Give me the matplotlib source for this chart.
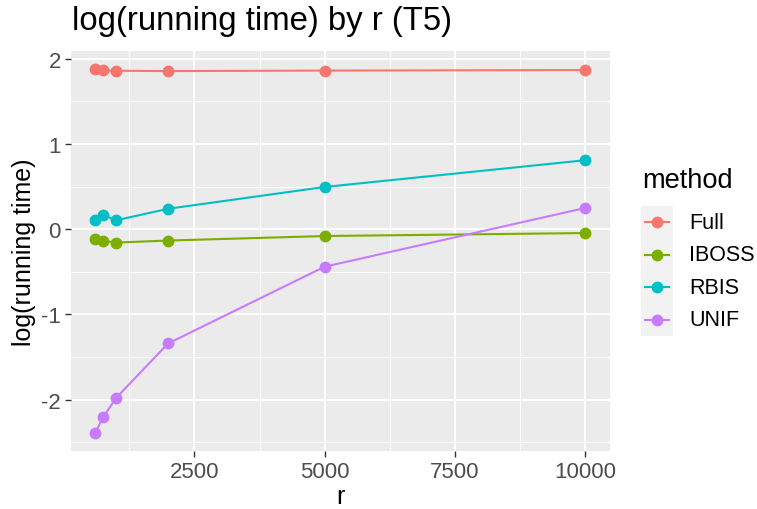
import matplotlib
matplotlib.use("Agg")
import matplotlib.pyplot as plt
from matplotlib.ticker import FixedLocator

r = [600, 750, 1000, 2000, 5000, 10000]
methods = ["Full", "IBOSS", "RBIS", "UNIF"]
full = [1.875, 1.863, 1.860, 1.856, 1.862, 1.868]
iboss = [-0.114, -0.137, -0.157, -0.133, -0.080, -0.045]
rbis = [0.113, 0.168, 0.105, 0.240, 0.496, 0.810]
unif = [-2.39, -2.21, -1.98, -1.34, -0.44, 0.25]
colors = ["#F8766D", "#7CAE00", "#00BFC4", "#C77CFF"]

xticks = [2500, 5000, 7500, 10000]
yticks = [-2, -1, 0, 1, 2]

plt.rcParams["font.family"] = ["Liberation Sans", "DejaVu Sans"]

W, H = 757, 510
fig = plt.figure(figsize=(W / 100, H / 100), dpi=100)
ax = fig.add_axes([70.7 / W, 58 / H, (610 - 70.7) / W, (452 - 52.3) / H])
ax.set_facecolor("#EBEBEB")

series = [full, iboss, rbis, unif]
for name, vals, c in zip(methods, series, colors):
    ax.plot(r, vals, color=c, lw=1.5, marker="o", ms=7.5, label=name, zorder=3)

# ggplot-style 5% expansion
xmin, xmax = min(r), max(r)
dx = (xmax - xmin) * 0.05
ax.set_xlim(xmin - dx, xmax + dx)
allv = full + iboss + rbis + unif
ymin, ymax = min(allv), max(allv)
dy = (ymax - ymin) * 0.05
ax.set_ylim(ymin - dy, ymax + dy)

ax.xaxis.set_major_locator(FixedLocator(xticks))
ax.yaxis.set_major_locator(FixedLocator(yticks))
ax.xaxis.set_minor_locator(FixedLocator([1250, 3750, 6250, 8750]))
ax.yaxis.set_minor_locator(FixedLocator([-2.5, -1.5, -0.5, 0.5, 1.5]))
ax.set_xticklabels([str(t) for t in xticks])
ax.set_yticklabels([str(t) for t in yticks])
ax.grid(which="major", color="white", lw=1.4)
ax.grid(which="minor", color="white", lw=0.7)
ax.set_axisbelow(True)
for s in ax.spines.values():
    s.set_visible(False)
ax.tick_params(which="major", length=4, width=1, color="#333333",
               labelcolor="#4D4D4D", labelsize=16, pad=3)
ax.tick_params(which="minor", length=0)

ax.set_xlabel("r", fontsize=18, labelpad=2)
ax.set_ylabel("log(running time)", fontsize=18, labelpad=4)
fig.text(72 / W, 1 - 30 / H, "log(running time) by r (T5)", fontsize=23.7,
         ha="left", va="baseline")

# legend, ggplot style: grey key column, labels on the right
lax = fig.add_axes([641 / W, 1 - 337 / H, 32 / W, 130 / H])
lax.set_facecolor("#F2F2F2")
lax.set_xlim(0, 1)
lax.set_ylim(len(methods), 0)
lax.set_xticks([])
lax.set_yticks([])
for s in lax.spines.values():
    s.set_visible(False)
for i, (name, c) in enumerate(zip(methods, colors)):
    lax.plot([0.12, 0.88], [i + 0.5, i + 0.5], color=c, lw=1.5)
    lax.plot([0.5], [i + 0.5], color=c, marker="o", ms=7.5, ls="none")
    lax.text(1.5, i + 0.5, name, fontsize=15.5, va="center", ha="left",
             transform=lax.transData, clip_on=False)
fig.text(642 / W, 1 - 188 / H, "method", fontsize=19.6, ha="left", va="baseline")

fig.savefig("out.png", dpi=100)
